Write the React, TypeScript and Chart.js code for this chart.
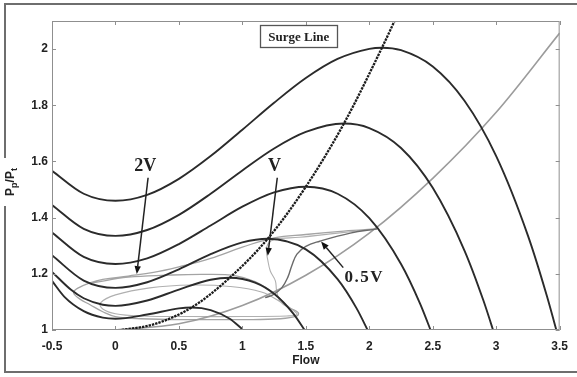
import React, { useEffect, useRef } from "react";
import { Chart, registerables } from "chart.js";
Chart.register(...registerables);

// ---- axis ticks ----
const X_TICKS = [-0.5, 0, 0.5, 1, 1.5, 2, 2.5, 3, 3.5];
const Y_TICKS = [1, 1.2, 1.4, 1.6, 1.8, 2];

// ---- compressor speed lines (black) ----
const SPEED_A_X = [-0.5, -0.25, 0, 0.25, 0.5, 0.75, 1, 1.25, 1.5, 1.75, 2, 2.1, 2.25, 2.5, 2.75, 3, 3.25, 3.4, 3.5];
const SPEED_A_Y = [1.567, 1.485, 1.46, 1.481, 1.538, 1.619, 1.713, 1.809, 1.897, 1.965, 2.001, 2.005, 1.996, 1.938, 1.816, 1.619, 1.336, 1.12, 0.956];
const SPEED_B_X = [-0.5, -0.25, 0, 0.25, 0.5, 0.75, 1, 1.25, 1.5, 1.8, 2, 2.25, 2.5, 2.75, 2.9, 3.0];
const SPEED_B_Y = [1.445, 1.36, 1.335, 1.356, 1.41, 1.485, 1.568, 1.646, 1.705, 1.735, 1.719, 1.648, 1.506, 1.283, 1.104, 0.965];
const SPEED_C_X = [-0.5, -0.25, 0, 0.25, 0.5, 0.75, 1, 1.25, 1.5, 1.75, 2, 2.25, 2.4, 2.5];
const SPEED_C_Y = [1.347, 1.26, 1.235, 1.255, 1.306, 1.372, 1.439, 1.49, 1.51, 1.485, 1.398, 1.235, 1.094, 0.98];
const SPEED_D_X = [-0.5, -0.25, 0, 0.25, 0.5, 0.75, 1, 1.2, 1.5, 1.75, 1.9, 2.0];
const SPEED_D_Y = [1.266, 1.176, 1.15, 1.17, 1.216, 1.27, 1.312, 1.325, 1.287, 1.181, 1.077, 0.988];
const SPEED_E_X = [-0.5, -0.35, -0.25, -0.1, 0, 0.25, 0.5, 0.75, 0.9, 1.1, 1.25, 1.4, 1.5];
const SPEED_E_Y = [1.207, 1.143, 1.113, 1.09, 1.086, 1.105, 1.144, 1.179, 1.186, 1.169, 1.129, 1.059, 0.993];
const SPEED_F_X = [-0.5, -0.4, -0.25, -0.1, 0, 0.25, 0.5, 0.6, 0.75, 0.9, 1.0];
const SPEED_F_Y = [1.175, 1.117, 1.067, 1.044, 1.04, 1.055, 1.077, 1.08, 1.071, 1.04, 1.003];

// ---- surge line (dotted) ----
const SURGE_X = [0.05, 0.3, 0.6, 0.9, 1.2, 1.5, 1.8, 2.1, 2.25];
const SURGE_Y = [1.0, 1.02, 1.08, 1.186, 1.325, 1.51, 1.735, 2.005, 2.15];

// ---- throttle line (grey) ----
const THROTTLE_X = [0, 0.5, 1, 1.5, 2, 2.5, 3, 3.5];
const THROTTLE_Y = [1.0, 1.022, 1.087, 1.195, 1.345, 1.54, 1.775, 2.057];

// ---- surge trajectories ----
const TRAJ_2V_X = [2.06, 1.8, 1.5, 1.25, 1.0, 0.75, 0.5, 0.3, 0.1, -0.1, -0.2, -0.3, -0.33, -0.28, -0.2, -0.1, 0.0, 0.2, 0.6, 1.0, 1.3, 1.43, 1.44, 1.37, 1.25, 1.1, 0.95, 0.7, 0.4, 0.1, -0.18];
const TRAJ_2V_Y = [1.36, 1.352, 1.34, 1.328, 1.295, 1.255, 1.225, 1.205, 1.192, 1.18, 1.168, 1.148, 1.132, 1.11, 1.09, 1.065, 1.048, 1.04, 1.037, 1.037, 1.04, 1.05, 1.062, 1.08, 1.13, 1.172, 1.193, 1.198, 1.195, 1.188, 1.168];
const TRAJ_V_X = [2.06, 1.75, 1.45, 1.25, 1.2, 1.19, 1.2, 1.22, 1.26, 1.27, 1.3, 1.4, 1.43, 1.35, 1.0, 0.6, 0.2, 0.0, -0.1, -0.12, 0.0, 0.27, 0.6, 0.9, 1.15, 1.3, 1.4];
const TRAJ_V_Y = [1.36, 1.345, 1.33, 1.322, 1.305, 1.28, 1.25, 1.21, 1.175, 1.14, 1.1, 1.07, 1.055, 1.05, 1.048, 1.048, 1.05, 1.058, 1.075, 1.096, 1.125, 1.15, 1.16, 1.155, 1.135, 1.1, 1.07];
const TRAJ_05V_X = [2.06, 1.85, 1.61, 1.5, 1.43, 1.39, 1.36, 1.31, 1.24, 1.18];
const TRAJ_05V_Y = [1.36, 1.345, 1.316, 1.298, 1.27, 1.23, 1.19, 1.15, 1.125, 1.115];

// ---- annotations (data coordinates) ----
const LABEL_2V = { text: "2V", x: 0.234, y: 1.583 };
const LABEL_V = { text: "V", x: 1.254, y: 1.583 };
const LABEL_05V = { text: "0.5V", x: 1.96, y: 1.187 };
const ARROWS = [
  { x1: 0.257, y1: 1.542, x2: 0.168, y2: 1.199 },
  { x1: 1.275, y1: 1.542, x2: 1.2, y2: 1.264 },
  { x1: 1.795, y1: 1.222, x2: 1.62, y2: 1.315 },
];
const SURGE_BOX = { text: "Surge Line", x1: 1.14, x2: 1.75, y1: 2.005, y2: 2.085 };

const pts = (xs: number[], ys: number[]) => xs.map((x, i) => ({ x, y: ys[i] }));

const overlay = {
  id: "overlay",
  beforeDraw(chart: any) {
    const { ctx, width, height } = chart;
    ctx.save();
    ctx.fillStyle = "#ffffff";
    ctx.fillRect(0, 0, width, height);
    ctx.restore();
  },
  afterDraw(chart: any) {
    const { ctx, chartArea: a, scales } = chart;
    const xs = scales.x, ys = scales.y;
    const px = (v: number) => xs.getPixelForValue(v);
    const py = (v: number) => ys.getPixelForValue(v);
    ctx.save();
    // plot box
    ctx.strokeStyle = "#8f8f8f";
    ctx.lineWidth = 1;
    ctx.strokeRect(a.left + 0.5, a.top + 0.5, a.right - a.left - 1, a.bottom - a.top - 1);
    // inward ticks
    ctx.beginPath();
    for (const v of X_TICKS) {
      const x = Math.round(px(v)) + 0.5;
      ctx.moveTo(x, a.bottom); ctx.lineTo(x, a.bottom - 4);
      ctx.moveTo(x, a.top); ctx.lineTo(x, a.top + 4);
    }
    for (const v of Y_TICKS) {
      const y = Math.round(py(v)) + 0.5;
      ctx.moveTo(a.left, y); ctx.lineTo(a.left + 4, y);
      ctx.moveTo(a.right, y); ctx.lineTo(a.right - 4, y);
    }
    ctx.stroke();

    // outer frame
    ctx.strokeStyle = "#6e6e6e";
    ctx.lineWidth = 2;
    ctx.beginPath();
    ctx.moveTo(577, 4); ctx.lineTo(5, 4); ctx.lineTo(5, 372); ctx.lineTo(577, 372);
    ctx.stroke();

    // y axis title with subscripts
    ctx.save();
    ctx.translate(10, 182);
    ctx.rotate(-Math.PI / 2);
    ctx.fillStyle = "#ffffff";
    ctx.fillRect(-24, -9, 48, 18);
    ctx.fillStyle = "#222";
    ctx.textBaseline = "alphabetic";
    ctx.textAlign = "left";
    const big = "bold 12px 'Liberation Sans', Arial, sans-serif";
    const small = "bold 9px 'Liberation Sans', Arial, sans-serif";
    const parts: [string, boolean][] = [["P", false], ["p", true], ["/P", false], ["t", true]];
    let total = 0;
    for (const [t, s] of parts) { ctx.font = s ? small : big; total += ctx.measureText(t).width; }
    let cx = -total / 2;
    for (const [t, s] of parts) {
      ctx.font = s ? small : big;
      ctx.fillText(t, cx, s ? 7 : 4);
      cx += ctx.measureText(t).width;
    }
    ctx.restore();

    // x axis title
    ctx.fillStyle = "#222";
    ctx.font = "bold 12px 'Liberation Sans', Arial, sans-serif";
    ctx.textAlign = "center";
    ctx.textBaseline = "middle";
    ctx.fillText("Flow", (a.left + a.right) / 2, 361);

    // Surge Line box
    const bx1 = px(SURGE_BOX.x1), bx2 = px(SURGE_BOX.x2), by1 = py(SURGE_BOX.y2), by2 = py(SURGE_BOX.y1);
    ctx.fillStyle = "#ffffff";
    ctx.fillRect(bx1, by1, bx2 - bx1, by2 - by1);
    ctx.strokeStyle = "#555";
    ctx.lineWidth = 1.3;
    ctx.strokeRect(Math.round(bx1) + 0.5, Math.round(by1) + 0.5, Math.round(bx2 - bx1), Math.round(by2 - by1));
    ctx.fillStyle = "#222";
    ctx.font = "bold 13px 'Liberation Serif', 'Times New Roman', serif";
    ctx.fillText(SURGE_BOX.text, (bx1 + bx2) / 2, (by1 + by2) / 2 + 1);

    // labels
    ctx.font = "bold 18px 'Liberation Serif', 'Times New Roman', serif";
    for (const l of [LABEL_2V, LABEL_V]) ctx.fillText(l.text, px(l.x), py(l.y));
    (ctx as any).letterSpacing = "1.5px";
    ctx.font = "bold 17px 'Liberation Serif', 'Times New Roman', serif";
    ctx.fillText(LABEL_05V.text, px(LABEL_05V.x), py(LABEL_05V.y));
    (ctx as any).letterSpacing = "0px";

    // arrows
    ctx.strokeStyle = "#222";
    ctx.fillStyle = "#111";
    ctx.lineWidth = 1.5;
    for (const ar of ARROWS) {
      const x1 = px(ar.x1), y1 = py(ar.y1), x2 = px(ar.x2), y2 = py(ar.y2);
      const ang = Math.atan2(y2 - y1, x2 - x1);
      const hl = 8, hw = 3.2;
      const bx = x2 - hl * Math.cos(ang), by = y2 - hl * Math.sin(ang);
      ctx.beginPath(); ctx.moveTo(x1, y1); ctx.lineTo(bx, by); ctx.stroke();
      ctx.beginPath();
      ctx.moveTo(x2, y2);
      ctx.lineTo(bx + hw * Math.sin(ang), by - hw * Math.cos(ang));
      ctx.lineTo(bx - hw * Math.sin(ang), by + hw * Math.cos(ang));
      ctx.closePath(); ctx.fill();
    }
    ctx.restore();
  },
};

export default function App() {
  const ref = useRef<HTMLCanvasElement | null>(null);
  useEffect(() => {
    if (!ref.current) return;
    const black = "#2b2b2b";
    const speed = (xs: number[], ys: number[]) => ({
      data: pts(xs, ys), borderColor: black, borderWidth: 1.9, pointRadius: 0,
      cubicInterpolationMode: "monotone" as const, clip: 0, fill: false,
    });
    const grey = (xs: number[], ys: number[], color: string, w: number) => ({
      data: pts(xs, ys), borderColor: color, borderWidth: w, pointRadius: 0,
      tension: 0.4, clip: 0, fill: false,
    });
    const chart = new Chart(ref.current, {
      type: "line",
      data: {
        datasets: [
          { data: pts(SURGE_X, SURGE_Y), borderColor: "#1c1c1c", borderWidth: 2.3, borderDash: [2.4, 1], pointRadius: 0, cubicInterpolationMode: "monotone", clip: 0, fill: false },
          speed(SPEED_A_X, SPEED_A_Y),
          speed(SPEED_B_X, SPEED_B_Y),
          speed(SPEED_C_X, SPEED_C_Y),
          speed(SPEED_D_X, SPEED_D_Y),
          speed(SPEED_E_X, SPEED_E_Y),
          speed(SPEED_F_X, SPEED_F_Y),
          grey(TRAJ_05V_X, TRAJ_05V_Y, "#6a6a6a", 1.4),
          { ...grey(THROTTLE_X, THROTTLE_Y, "#9c9c9c", 1.6), tension: 0, cubicInterpolationMode: "monotone" },
          grey(TRAJ_V_X, TRAJ_V_Y, "#b0b0b0", 1.1),
          grey(TRAJ_2V_X, TRAJ_2V_Y, "#a4a4a4", 1.3),
        ] as any,
      },
      options: {
        animation: false,
        responsive: true,
        maintainAspectRatio: false,
        layout: { padding: { top: 21, right: 17, left: 0, bottom: 0 } },
        plugins: { legend: { display: false }, tooltip: { enabled: false } },
        scales: {
          x: {
            type: "linear", min: -0.5, max: 3.5,
            grid: { display: false, drawTicks: false },
            border: { display: false },
            afterBuildTicks: (s: any) => { s.ticks = X_TICKS.map((v) => ({ value: v })); },
            afterFit: (s: any) => { s.height = 47; },
            ticks: {
              padding: 9, maxRotation: 0, autoSkip: false, color: "#222",
              font: { family: "'Liberation Sans', Arial, sans-serif", size: 12, weight: "bold" },
              callback: (v: any) => String(v),
            },
          },
          y: {
            type: "linear", min: 1, max: 2.1,
            grid: { display: false, drawTicks: false },
            border: { display: false },
            afterBuildTicks: (s: any) => { s.ticks = Y_TICKS.map((v) => ({ value: v })); },
            afterFit: (s: any) => { s.width = 52; },
            ticks: {
              padding: 4, color: "#222",
              font: { family: "'Liberation Sans', Arial, sans-serif", size: 12, weight: "bold" },
              callback: (v: any) => String(v),
            },
          },
        },
      } as any,
      plugins: [overlay],
    });
    return () => chart.destroy();
  }, []);
  return (
    <div style={{ position: "fixed", left: 0, top: 0, width: 577, height: 377, background: "#fff" }}>
      <canvas ref={ref} />
    </div>
  );
}
